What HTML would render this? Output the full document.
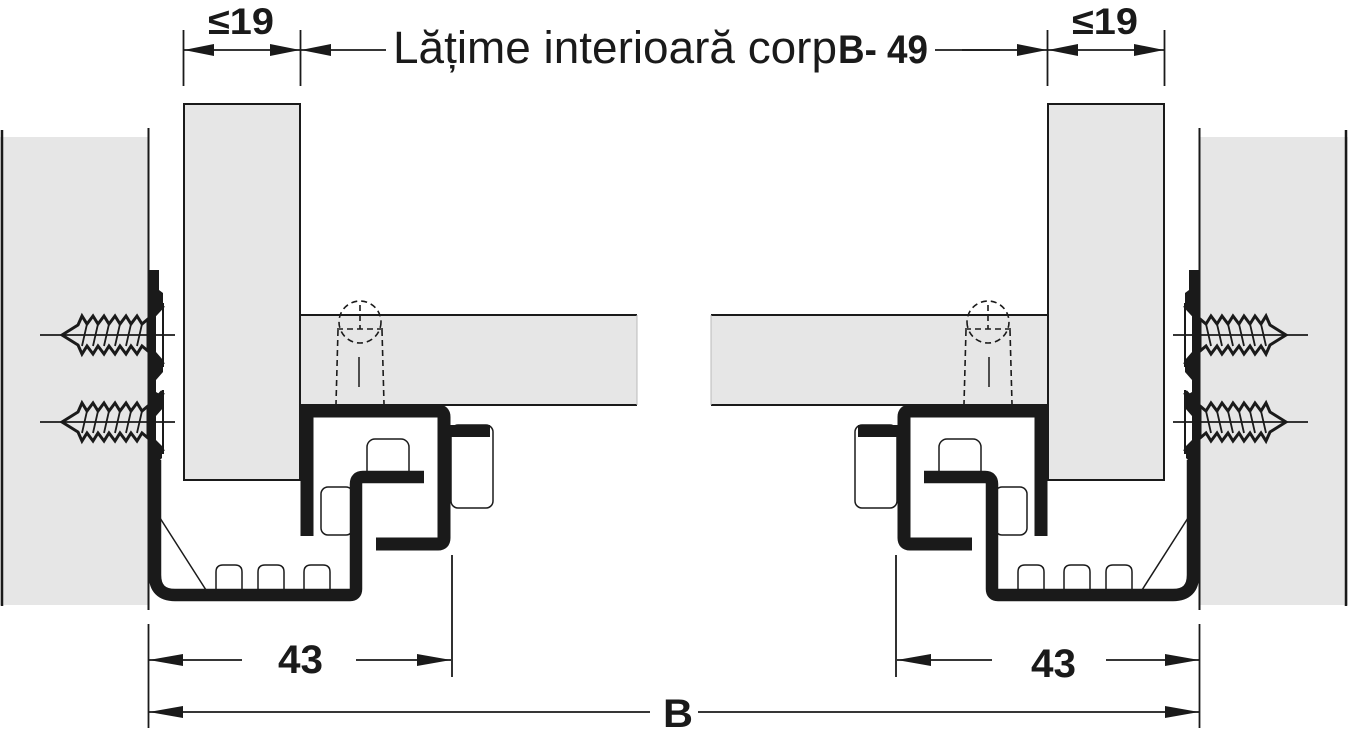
<!DOCTYPE html>
<html><head><meta charset="utf-8"><style>
html,body{margin:0;padding:0;background:#fff;width:1348px;height:730px;overflow:hidden}
svg{display:block}
text{font-family:"Liberation Sans",sans-serif;fill:#1a1a1a}
</style></head><body>
<svg width="1348" height="730" viewBox="0 0 1348 730" xmlns="http://www.w3.org/2000/svg">
<defs>
<g id="screw">
  <path d="M62,0 L78,-10 L82,-19 L87,-11 L93,-19 L98,-11 L104,-19 L109,-11 L115,-19 L120,-11 L126,-19 L131,-11 L137,-19 L142,-11 L148,-16 L148,16 L142,11 L137,19 L131,11 L126,19 L120,11 L115,19 L109,11 L104,19 L98,11 L93,19 L87,11 L82,19 L78,10 Z" fill="#e6e6e6" stroke="#1a1a1a" stroke-width="3" stroke-linejoin="miter"/>
  <g stroke="#1a1a1a" stroke-width="1.8">
    <line x1="87" y1="-11" x2="82" y2="11"/><line x1="98" y1="-11" x2="93" y2="11"/><line x1="109" y1="-11" x2="104" y2="11"/><line x1="120" y1="-11" x2="115" y2="11"/><line x1="131" y1="-11" x2="126" y2="11"/><line x1="142" y1="-11" x2="137" y2="11"/>
    <line x1="40" y1="0" x2="175" y2="0"/>
  </g>
  <path d="M163,-30 L149,-15 M163,30 L149,15" stroke="#1a1a1a" stroke-width="5" fill="none"/>
  <line x1="163" y1="-32" x2="163" y2="32" stroke="#1a1a1a" stroke-width="2"/>
</g>
<g id="side">
  <rect x="0" y="137" width="148" height="468" fill="#e6e6e6"/>
  <line x1="2" y1="130" x2="2" y2="606" stroke="#1a1a1a" stroke-width="2.5"/>
  <line x1="148.5" y1="128" x2="148.5" y2="610" stroke="#1a1a1a" stroke-width="2"/>
  <rect x="184" y="104" width="116" height="376" fill="#e6e6e6" stroke="#1a1a1a" stroke-width="2"/>
  <rect x="301" y="315" width="336" height="90" fill="#e6e6e6"/>
  <line x1="300" y1="315" x2="637" y2="315" stroke="#1a1a1a" stroke-width="2"/>
  <line x1="300" y1="405" x2="637" y2="405" stroke="#1a1a1a" stroke-width="2"/>
  <line x1="637" y1="315" x2="637" y2="405" stroke="#bbb" stroke-width="1"/>
  <g stroke="#1a1a1a" stroke-width="1.6" fill="none" stroke-dasharray="6,4">
    <circle cx="360" cy="322" r="21"/>
    <line x1="337" y1="329" x2="383" y2="329"/>
    <line x1="360" y1="305" x2="360" y2="329"/>
    <line x1="338" y1="330" x2="336" y2="404"/>
    <line x1="382" y1="330" x2="384" y2="404"/>
  </g>
  <line x1="359" y1="357" x2="359" y2="387" stroke="#1a1a1a" stroke-width="1.5"/>
  <path d="M149,270 L159,270 L159,290 L163,293 L163,305 L156,316 L156,352 L163,360 L163,372 L156,380 L156,392 L163,396 L163,408 L156,416 L156,440 L162,446 L162,458 L158,462 L149,462 Z" fill="#1a1a1a"/>
  <use href="#screw" y="335"/>
  <use href="#screw" y="422"/>
  <g fill="#fff" stroke="#1a1a1a" stroke-width="1.5">
    <rect x="451" y="425" width="42" height="83" rx="7"/>
    <rect x="367" y="439" width="42" height="40" rx="8"/>
    <rect x="321" y="487" width="32" height="48" rx="7"/>
    <path d="M216,590 V572 Q216,565 223,565 H235 Q242,565 242,572 V590"/>
    <path d="M258,590 V572 Q258,565 265,565 H277 Q284,565 284,572 V590"/>
    <path d="M304,590 V572 Q304,565 311,565 H323 Q330,565 330,572 V590"/>
  </g>
  <line x1="160" y1="518" x2="206" y2="590" stroke="#1a1a1a" stroke-width="1.5"/>
  <path d="M155,460 V575 Q155,595 175,595 H350 Q356,595 356,589 V484 Q356,477 363,477 H424" fill="none" stroke="#1a1a1a" stroke-width="12.5"/>
  <path d="M307,536 V411 H438 Q444,411 444,417 V538 Q444,544 438,544 H376" fill="none" stroke="#1a1a1a" stroke-width="13"/>
  <line x1="444" y1="431" x2="490" y2="431" stroke="#1a1a1a" stroke-width="12"/>
  <g stroke="#1a1a1a" stroke-width="1.8">
    <line x1="183.5" y1="30" x2="183.5" y2="86"/>
    <line x1="300.5" y1="30" x2="300.5" y2="86"/>
    <line x1="184" y1="50" x2="300" y2="50"/>
    <line x1="300" y1="50" x2="386" y2="50"/>
    <line x1="148.5" y1="624" x2="148.5" y2="728"/>
    <line x1="452" y1="555" x2="452" y2="677"/>
    <line x1="149" y1="660" x2="242" y2="660"/>
    <line x1="356" y1="660" x2="451" y2="660"/>
    <line x1="149" y1="712" x2="650" y2="712"/>
  </g>
  <g fill="#1a1a1a">
    <polygon points="184,50 214,44 214,56"/>
    <polygon points="300,50 270,44 270,56"/>
    <polygon points="301,50 331,44 331,56"/>
    <polygon points="149,660 183,654 183,666"/>
    <polygon points="451,660 417,654 417,666"/>
    <polygon points="149,712 183,706 183,718"/>
  </g>
</g>
</defs>
<use href="#side"/>
<use href="#side" transform="matrix(-1,0,0,1,1348,0)"/>
<line x1="935" y1="50" x2="1000" y2="50" stroke="#1a1a1a" stroke-width="1.8"/>
<text x="208" y="34" font-size="37" font-weight="bold" textLength="66" lengthAdjust="spacingAndGlyphs">≤19</text>
<text x="1072" y="34" font-size="37" font-weight="bold" textLength="66" lengthAdjust="spacingAndGlyphs">≤19</text>
<text x="393" y="63" font-size="45" textLength="444" lengthAdjust="spacingAndGlyphs">Lățime interioară corp</text>
<text x="838" y="63" font-size="40" font-weight="bold" textLength="90" lengthAdjust="spacingAndGlyphs">B- 49</text>
<text x="278" y="673" font-size="40" font-weight="bold" textLength="45" lengthAdjust="spacingAndGlyphs">43</text>
<text x="1031" y="677" font-size="40" font-weight="bold" textLength="45" lengthAdjust="spacingAndGlyphs">43</text>
<text x="663" y="727" font-size="40" font-weight="bold" textLength="30" lengthAdjust="spacingAndGlyphs">B</text>
</svg>
</body></html>
